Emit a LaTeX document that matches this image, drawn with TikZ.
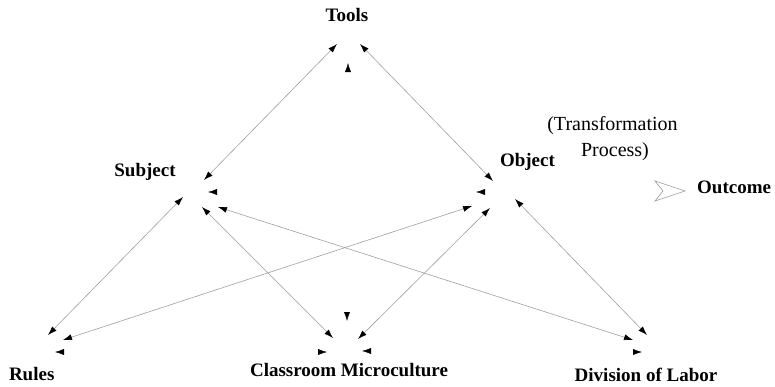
\documentclass[tikz,border=0pt]{standalone}
\usepackage{fontspec}
\setmainfont{Liberation Serif}
\usetikzlibrary{arrows.meta}
\tikzset{
  lbl/.style={anchor=base, inner sep=0pt, font=\fontsize{19bp}{21bp}\selectfont\bfseries},
  note/.style={anchor=base, inner sep=0pt, font=\fontsize{20bp}{22bp}\selectfont},
  head/.tip={Latex[black,length=9bp,width=6bp]},
  link/.style={draw=gray!75, line width=0.6bp, head-head},
  lone/.style={draw=white, line width=0.4bp, -head},
}
\begin{document}
\begin{tikzpicture}[x=1bp,y=-1bp]
\useasboundingbox (0,0) rectangle (775,386);

% labels
\node[lbl] (tools) at (347,21.7) {Tools};
\node[lbl] (subject) at (145,176.7) {Subject};
\node[lbl] (object) at (527.5,166) {Object};
\node[lbl] (rules) at (31.7,380.7) {Rules};
\node[lbl] (micro) at (349,376) {Classroom Microculture};
\node[lbl] (labor) at (646,381.7) {Division of Labor};
\node[lbl, anchor=base west] (outcome) at (697,193.3) {Outcome};
\node[note] (trans) at (612.5,130.7) {(Transformation};
\node[note] (proc) at (615,156.7) {Process)};

% connector ends
\coordinate (t1) at (337,44);
\coordinate (t2) at (360,44);
\coordinate (s1) at (204,180);
\coordinate (s2) at (183,197);
\coordinate (s3) at (202,207);
\coordinate (s4) at (218,207);
\coordinate (o1) at (493,181);
\coordinate (o2) at (472,206);
\coordinate (o3) at (490,208);
\coordinate (o4) at (515,199);
\coordinate (r1) at (48,335);
\coordinate (r2) at (63,340);
\coordinate (c1) at (333,338);
\coordinate (c2) at (358,339);
\coordinate (d1) at (633,340);
\coordinate (d2) at (647,335);

% two-way links of the triangle
\draw[link] (s1) -- (t1);
\draw[link] (o1) -- (t2);
\draw[link] (s2) -- (r1);
\draw[link] (s3) -- (c1);
\draw[link] (s4) -- (d1);
\draw[link] (o2) -- (r2);
\draw[link] (o3) -- (c2);
\draw[link] (o4) -- (d2);

% single arrowheads without a visible shaft
\coordinate (ua) at (348,73);   \coordinate (ub) at (348,63);
\coordinate (sa) at (218,192);  \coordinate (sb) at (208,192);
\coordinate (oa) at (486,192);  \coordinate (ob) at (476,192);
\coordinate (ra) at (65,352);   \coordinate (rb) at (55,352);
\coordinate (da) at (347,311);  \coordinate (db) at (347,321);
\coordinate (ma) at (317,352);  \coordinate (mb) at (327,352);
\coordinate (na) at (372,351);  \coordinate (nb) at (362,351);
\coordinate (la) at (632,352);  \coordinate (lb) at (642,352);
\draw[lone] (ua) -- (ub);
\draw[lone] (sa) -- (sb);
\draw[lone] (oa) -- (ob);
\draw[lone] (ra) -- (rb);
\draw[lone] (da) -- (db);
\draw[lone] (ma) -- (mb);
\draw[lone] (na) -- (nb);
\draw[lone] (la) -- (lb);

% open chevron before the outcome
\draw[gray!80, line width=0.6bp] (655,181) -- (685,191) -- (655,201) -- (663,191) -- cycle;
\end{tikzpicture}
\end{document}
